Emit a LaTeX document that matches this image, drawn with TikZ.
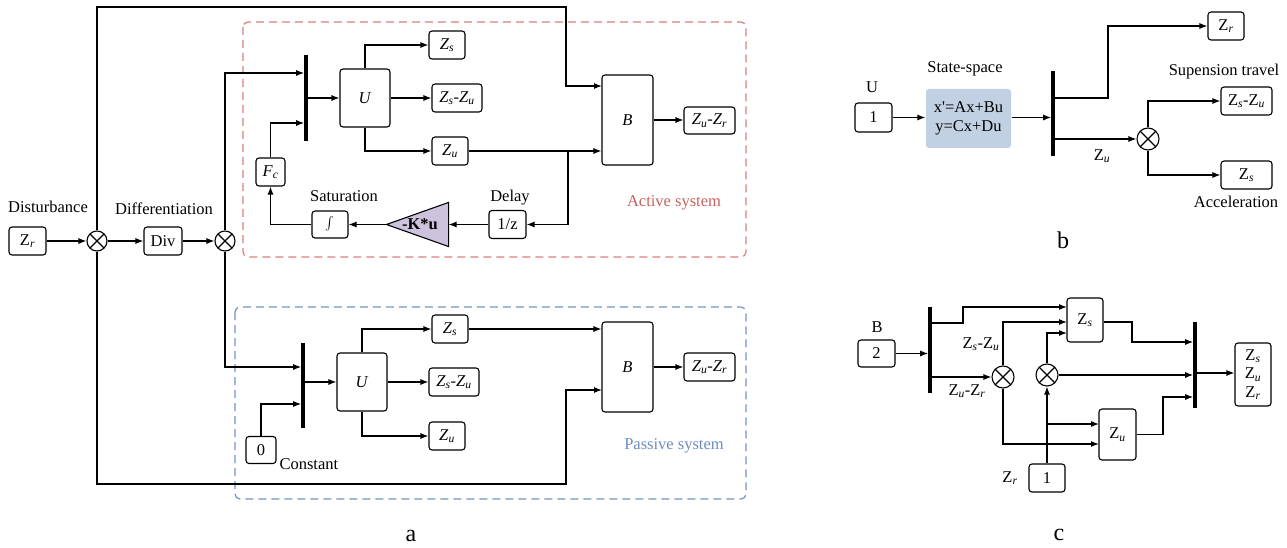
\documentclass[tikz,border=0pt]{standalone}
\usepackage{fontspec}
\setmainfont{Liberation Serif}
\usetikzlibrary{arrows.meta}
\definecolor{actred}{HTML}{D9807C}
\definecolor{acttext}{HTML}{C9605B}
\definecolor{pasblue}{HTML}{7393C3}
\definecolor{pastext}{HTML}{6A8CC0}
\definecolor{gainfill}{HTML}{CDC3DC}
\definecolor{ssfill}{HTML}{C1D0E3}
\newcommand{\myZi}[1]{\textit{Z}\textsubscript{\textit{#1}}}
\newcommand{\myZu}[1]{Z\textsubscript{\textit{#1}}}
\begin{document}
\begin{tikzpicture}[x=1pt,y=-1pt,line width=1.1pt,
  >={Latex[length=8pt,width=6pt]},
  every node/.style={font=\fontsize{16.5}{19.5}\selectfont},
  blk/.style={draw,rounded corners=3pt,inner sep=0pt,align=center},
  sumnode/.style={draw,circle,minimum size=#1,inner sep=0pt,
    path picture={\draw (path picture bounding box.north west) -- (path picture bounding box.south east)
      (path picture bounding box.north east) -- (path picture bounding box.south west);}},
  sumnode/.default=20,
  bar/.style={fill=black,draw=none,inner sep=0pt,minimum width=3.5,minimum height=#1},
  lbl/.style={inner sep=0pt},
  region/.style={dash pattern=on 8pt off 5pt,rounded corners=5pt,line width=1.2pt},
  panel/.style={font=\fontsize{24}{28}\selectfont,inner sep=0pt}]
\useasboundingbox (0,0) rectangle (1287,548);

% ---------------- panel a ----------------
\draw[region,draw=actred] (243,22) rectangle (746,257);
\draw[region,draw=pasblue] (235,307) rectangle (746,499);
\node[lbl,text=acttext] (acttxt) at (674,203) {Active system};
\node[lbl,text=pastext] (pastxt) at (674,446) {Passive system};

\node[blk,minimum width=37,minimum height=28] (zr0) at (27.5,241) {\myZu{r}};
\node[lbl] (distl) at (48,207) {Disturbance};
\node[sumnode] (s1) at (97,241) {};
\node[blk,minimum width=38,minimum height=28] (div) at (163,241) {Div};
\node[lbl] (diffl) at (164,209) {Differentiation};
\node[sumnode] (s2) at (225,241) {};

\node[bar=86] (m1) at (306,98) {};
\node[blk,minimum width=29,minimum height=28] (fc) at (270.5,172) {\textit{F}\textsubscript{\textit{c}}};
\node[blk,minimum width=50,minimum height=58] (u1) at (365,98) {\textit{U}};
\node[blk,minimum width=36,minimum height=28] (zs1) at (447,45) {\myZi{s}};
\node[blk,minimum width=50,minimum height=28] (zsu1) at (457,98) {\myZi{s}-\myZi{u}};
\node[blk,minimum width=36,minimum height=28] (zu1) at (450,151) {\myZi{u}};
\node[blk,minimum width=51,minimum height=90] (b1) at (627.5,120) {\textit{B}};
\node[blk,minimum width=51,minimum height=27] (zur1) at (709.5,120.5) {\myZi{u}-\myZi{r}};
\node[blk,minimum width=37,minimum height=28] (delay) at (507.5,224.5) {1/z};
\node[lbl] (delayl) at (510,198) {Delay};
\node[inner sep=0pt,minimum width=61,minimum height=43] (gain) at (417.5,224.5) {};
\draw[fill=gainfill] (gain.west) -- (gain.north east) -- (gain.south east) -- cycle;
\node[lbl] (gaint) at (420,224.5) {\textbf{-K*u}};
\node[blk,minimum width=36,minimum height=27] (sat) at (330,224.5) {\smash{\raisebox{-4.5pt}{\scalebox{1.3}{$\int$}}}};
\node[lbl] (satl) at (344,196.5) {Saturation};

\coordinate (m1a) at (304.2,73);
\coordinate (m1b) at (304.2,123);
\coordinate (m1o) at (306,98);
\coordinate (b1a) at (602,86);
\coordinate (br1) at (568,151);

\draw[->] (zr0) -- (s1);
\draw[->] (s1) -- (div);
\draw[->] (div) -- (s2);
\draw[->] (s1.north) |- (566,7) |- (b1a);
\draw[->] (s2.north) |- (m1a);
\draw[->] (fc.north) |- (m1b);
\draw[->] (m1o) -- (u1.west);
\draw[->] (u1.north) |- (zs1.west);
\draw[->] (u1.east) -- (zsu1.west);
\draw[->] (u1.south) |- (zu1.west);
\draw[->] (zu1.east) -- (zu1.east -| b1.west);
\draw[->] (br1) |- (delay.east);
\draw[->] (b1.east) -- (b1.east -| zur1.west);
\draw[->] (delay.west) -- (gain.east);
\draw[->] (gain.west) -- (sat.east);
\draw[->] (sat.west) -| (fc.south);

% passive
\node[bar=85] (m2) at (303,385.5) {};
\node[blk,minimum width=30,minimum height=27] (c0) at (261,450) {0};
\node[lbl,anchor=west] (constl) at (279,464) {Constant};
\node[blk,minimum width=50,minimum height=58] (u2) at (362,382) {\textit{U}};
\node[blk,minimum width=36,minimum height=28] (zs2) at (450,329) {\myZi{s}};
\node[blk,minimum width=50,minimum height=28] (zsu2) at (454,382) {\myZi{s}-\myZi{u}};
\node[blk,minimum width=36,minimum height=28] (zu2) at (447,436) {\myZi{u}};
\node[blk,minimum width=51,minimum height=90] (b2) at (627.5,367) {\textit{B}};
\node[blk,minimum width=51,minimum height=28] (zur2) at (709.5,367) {\myZi{u}-\myZi{r}};

\coordinate (m2a) at (301.2,367);
\coordinate (m2b) at (301.2,404);
\coordinate (m2o) at (303,382);
\coordinate (b2b) at (602,390);

\draw[->] (s2.south) |- (m2a);
\draw[->] (c0.north) |- (m2b);
\draw[->] (m2o) -- (u2.west);
\draw[->] (u2.north) |- (zs2.west);
\draw[->] (u2.east) -- (zsu2.west);
\draw[->] (u2.south) |- (zu2.west);
\draw[->] (zs2.east) -- (zs2.east -| b2.west);
\draw[->] (s1.south) |- (566,484) |- (b2b);
\draw[->] (b2.east) -- (zur2.west);

\node[panel] (pa) at (411,536) {a};

% ---------------- panel b ----------------
\node[blk,minimum width=37,minimum height=29] (oneb) at (873.5,117.5) {1};
\node[lbl] (ul) at (872,87) {U};
\node[fill=ssfill,rounded corners=3pt,minimum width=85,minimum height=59,inner sep=0pt,align=center] (ss) at (968.5,118.5) {x\textquotesingle=Ax+Bu\\y=Cx+Du};
\node[lbl] (ssl) at (965,69) {State-space};
\node[bar=85] (mb) at (1053,113.5) {};
\node[blk,minimum width=36,minimum height=28] (zrb) at (1226,26) {\myZu{r}};
\node[sumnode=22] (sb) at (1148,139) {};
\node[blk,minimum width=51,minimum height=28] (zsub) at (1246.5,101) {\myZu{s}-\myZu{u}};
\node[blk,minimum width=51,minimum height=28] (zsb) at (1246.5,175) {\myZu{s}};
\node[lbl] (zul) at (1102,156) {\myZu{u}};
\node[lbl] (supl) at (1224,72) {Supension travel};
\node[lbl] (accl) at (1236,202) {Acceleration};

\coordinate (mbi) at (1051.2,117.5);
\coordinate (mbo1) at (1053,98);
\coordinate (mbo2) at (1053,139);

\draw[->] (oneb.east) -- (ss.west |- oneb.east);
\draw[->] (ss.east |- mbi) -- (mbi);
\draw[->] (mbo1) -| (1108,26) -- (zrb.west);
\draw[->] (mbo2) -- (sb.west);
\draw[->] (sb.north) |- (zsub.west);
\draw[->] (sb.south) |- (zsb.west);

\node[panel] (pb) at (1063,240) {b};

% ---------------- panel c ----------------
\node[blk,minimum width=37,minimum height=27] (two) at (876.5,353.5) {2};
\node[lbl] (bl) at (877,327) {B};
\node[bar=86] (mc1) at (930,350) {};
\node[blk,minimum width=36,minimum height=44] (zsc) at (1085,320) {\myZu{s}};
\node[sumnode=22] (c1) at (1003,377) {};
\node[sumnode=22] (c2) at (1047,375) {};
\node[blk,minimum width=37,minimum height=51] (zuc) at (1117.5,434.5) {\myZu{u}};
\node[blk,minimum width=36,minimum height=28] (onec) at (1047,478) {1};
\node[lbl] (zrl) at (1010,478) {\myZu{r}};
\node[bar=86] (mc2) at (1195,365) {};
\node[blk,minimum width=36,minimum height=63] (outc) at (1253,374.5) {\myZu{s}\\[-1pt]\myZu{u}\\[-1pt]\myZu{r}};
\node[lbl] (zsul) at (981,344) {\myZu{s}-\myZu{u}};
\node[lbl] (zurl) at (967,391) {\myZu{u}-\myZu{r}};

\coordinate (mc1i) at (928.2,353.5);
\coordinate (mc1o1) at (930,323);
\coordinate (mc1o2) at (930,377);
\coordinate (zsa) at (1067,307);
\coordinate (zsb2) at (1067,322);
\coordinate (zsc3) at (1067,333);
\coordinate (zua) at (1099,424);
\coordinate (zub) at (1099,444);
\coordinate (brc) at (1047,424);
\coordinate (mc2a) at (1193.2,342);
\coordinate (mc2b) at (1193.2,375);
\coordinate (mc2c) at (1193.2,397);
\coordinate (mc2o) at (1195,373);

\draw[->] (two.east) -- (mc1i);
\draw[->] (mc1o1) -| (963,307) -- (zsa);
\draw[->] (mc1o2) -- (c1.west);
\draw[->] (c1.north) |- (zsb2);
\draw[->] (c1.south) |- (zub);
\draw[->] (c2.north) |- (zsc3);
\draw[->] (c2.east) -- (mc2b);
\draw[->] (onec.north) -- (c2.south);
\draw[->] (brc) -- (zua);
\draw[->] (zsc.east |- 0,322) -| (1132,342) -- (mc2a);
\draw[->] (zuc.east) -| (1163,397) -- (mc2c);
\draw[->] (mc2o) -- (outc.west |- mc2o);

\node[panel] (pc) at (1059,535) {c};
\end{tikzpicture}
\end{document}
